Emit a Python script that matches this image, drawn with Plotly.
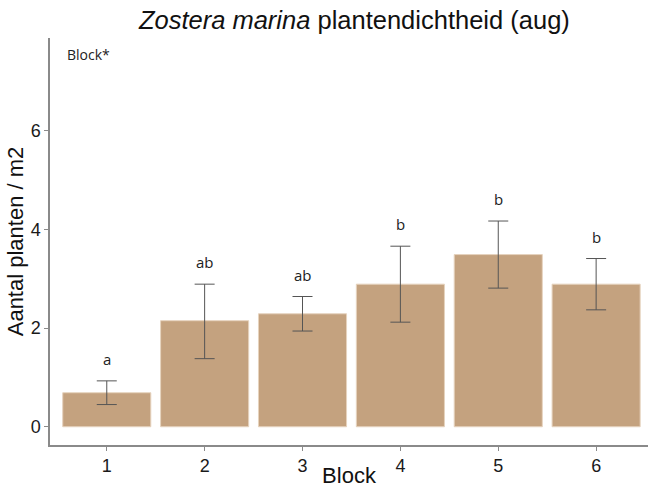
import plotly.graph_objects as go

blocks = [1, 2, 3, 4, 5, 6]
means = [0.69, 2.15, 2.29, 2.89, 3.49, 2.89]
err_hi = [0.93, 2.89, 2.64, 3.66, 4.17, 3.41]
err_lo = [0.45, 1.38, 1.94, 2.12, 2.81, 2.37]
letters = ["a", "ab", "ab", "b", "b", "b"]

plus = [h - m for h, m in zip(err_hi, means)]
minus = [m - l for m, l in zip(means, err_lo)]

fig = go.Figure()
fig.add_trace(go.Bar(
    x=blocks, y=means, width=0.9,
    marker=dict(color="#C4A27F", line=dict(color="#E6D3BE", width=1)),
    error_y=dict(type="data", array=plus, arrayminus=minus, symmetric=False,
                 color="#555555", thickness=1, width=10),
    showlegend=False,
))

for b, h, t in zip(blocks, err_hi, letters):
    fig.add_annotation(x=b, y=h, text=t, showarrow=False, yanchor="bottom", yshift=10,
                       font=dict(family="Open Sans", size=15, color="#222222"))

fig.add_annotation(x=0, y=1, xref="paper", yref="paper", xanchor="left", yanchor="top",
                   xshift=15, yshift=-5, text="Block*", showarrow=False,
                   font=dict(family="Open Sans", size=14, color="#222222"))

fig.update_layout(
    width=649, height=488,
    margin=dict(l=50, r=1, t=38, b=43),
    plot_bgcolor="white", paper_bgcolor="white",
    title=dict(text="<i>Zostera marina</i> plantendichtheid (aug)", x=0.546, xanchor="center",
               y=0.959, yanchor="middle",
               font=dict(family="Liberation Sans", size=25.5, color="#111111")),
    xaxis=dict(range=[0.42, 6.53], tickmode="array", tickvals=blocks,
               ticktext=[str(b) for b in blocks], automargin=False,
               showline=True, linecolor="#8a8a8a", linewidth=1.5, ticks="outside",
               ticklen=4, tickcolor="#8a8a8a", showgrid=False, zeroline=False,
               tickfont=dict(family="Liberation Sans", size=18, color="#1a1a1a"),
               title=dict(text="Block", standoff=5,
                          font=dict(family="Liberation Sans", size=22, color="#111111"))),
    yaxis=dict(range=[-0.37, 7.88], tickvals=[0, 2, 4, 6], automargin=False,
               showline=True, linecolor="#8a8a8a", linewidth=1.5, ticks="outside",
               ticklen=4, tickcolor="#8a8a8a", showgrid=False, zeroline=False,
               tickfont=dict(family="Liberation Sans", size=18, color="#1a1a1a"),
               title=dict(text="Aantal planten / m2", standoff=1,
                          font=dict(family="Liberation Sans", size=22, color="#111111"))),
)

fig.write_html("out.html")
